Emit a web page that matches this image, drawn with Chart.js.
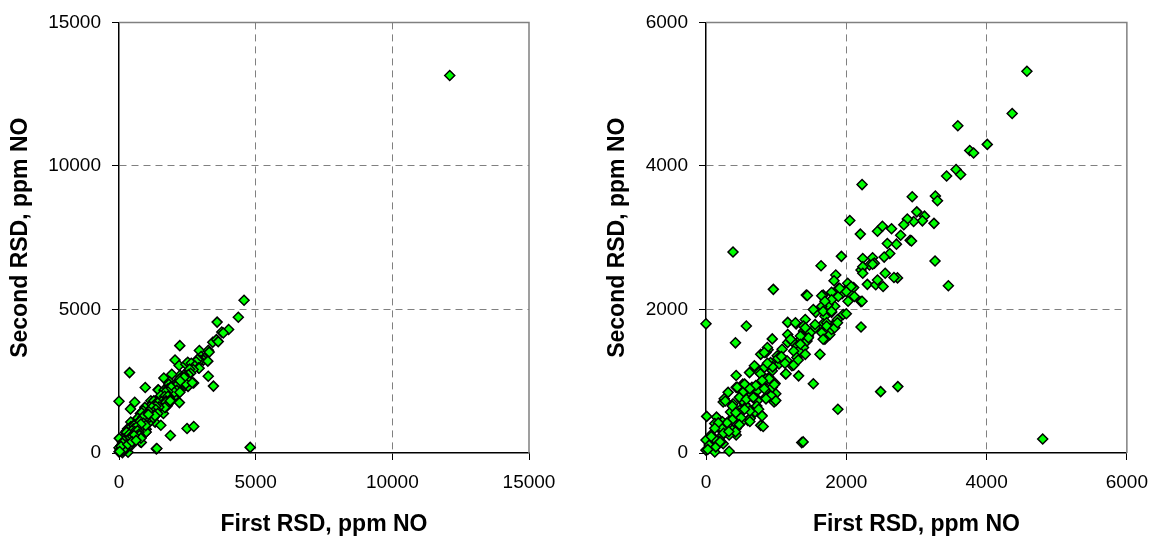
<!DOCTYPE html>
<html>
<head>
<meta charset="utf-8">
<title>First vs second RSD reading</title>
<script src="https://cdn.jsdelivr.net/npm/chart.js@4/dist/chart.umd.min.js"></script>
<style>
  html, body { margin: 0; padding: 0; background: #fff; }
  #wrap { position: relative; width: 1159px; height: 541px; }
  canvas { position: absolute; top: 0; }
</style>
</head>
<body>
<div id="wrap">
  <canvas id="fullRange" width="580" height="541" style="left:0"></canvas>
  <canvas id="closeUp" width="579" height="541" style="left:580px"></canvas>
</div>
<script>
// paired readings, ppm NO (first RSD pass, second RSD pass)
const firstRsd = [
  4575, 4365, 3590, 4010, 3760, 3815, 3430, 3565, 3630, 2225,
  2940, 3270, 3300, 3005, 3115, 3085, 2960, 2870, 2820, 3250,
  2050, 2200, 2445, 2515, 2645, 2775, 2910, 2930, 2715, 2585,
  2620, 2540, 2235, 2375, 2400, 2330, 3265, 1930, 1640, 385,
  1850, 1825, 2210, 2300, 2420, 2525, 2555, 2445, 2730, 3455,
  2020, 2105, 2210, 2070, 1975, 1890, 1940, 960, 1430, 1670,
  1955, 2000, 1835, 1740, 1790, 1695, 1860, 1790, 1765, 1650,
  1565, 1415, 1670, 1625, 1555, 1390, 1460, 1345, 1390, 1275,
  1320, 1165, 1285, 1165, 1165, 2210, 0, 575, 420, 945,
  885, 855, 780, 710, 620, 430, 430, 525, 1085, 1040,
  1155, 1225, 1320, 1625, 1530, 945, 900, 805, 735, 995,
  970, 855, 710, 640, 780, 570, 550, 480, 385, 315,
  245, 385, 290, 220, 150, 125, 10, 0, 0, 125,
  330, 245, 55, 430, 595, 430, 1365, 1385, 1880, 2490,
  2735, 4800, 12100, 2235, 2375, 2680, 2235, 1445, 1650, 1790,
  1885, 2000, 2070, 1905, 2115, 2025, 2225, 1790, 1695, 1530,
  1670, 1790, 1875, 1275, 1390, 1555, 1720, 1650, 1790, 1485,
  1365, 1225, 1695, 1440, 445, 555, 655, 775, 865, 985,
  930, 725, 610, 515, 260, 350, 470, 585, 700, 795,
  630, 515, 375, 280, 235, 165, 70, 45, 140, 210,
  115, 235, 330, 420, 875, 830, 1415, 1720, 1835, 1875,
  1670, 1460, 1345, 1205, 1345, 1250, 1085, 1015, 1295, 1415,
  1135, 920, 830, 690, 760, 855, 945, 830, 710, 550,
  525, 640, 855, 995, 735, 1140, 1125, 1250, 1315, 1025,
  950, 875, 1075, 775, 900, 975, 800, 625, 475, 575,
  675, 725, 625, 750, 815, 800, 275, 375, 425, 500,
  550, 375, 300, 225, 175, 250, 200, 125, 75, 25,
  325, 475, 625
];
const secondRsd = [
  5320, 4730, 4560, 4300, 4215, 4180, 3860, 3950, 3880, 3740,
  3570, 3580, 3515, 3360, 3300, 3235, 3225, 3260, 3180, 3200,
  3240, 3050, 3090, 3160, 3125, 3035, 2965, 2955, 2910, 2920,
  2780, 2730, 2710, 2720, 2645, 2620, 2675, 2740, 2610, 2800,
  2480, 2400, 2550, 2350, 2345, 2320, 2505, 2410, 2440, 2330,
  2365, 2305, 2110, 2205, 2260, 2295, 2220, 2280, 2200, 2200,
  1930, 1940, 2045, 2065, 1960, 1905, 1825, 1765, 1650, 2045,
  1960, 1860, 1800, 1720, 1745, 1700, 1630, 1580, 1470, 1515,
  1420, 1820, 1800, 1650, 1540, 1755, 1800, 1770, 1535, 1590,
  1440, 1400, 1375, 1195, 1120, 1080, 915, 960, 1305, 1240,
  1285, 1215, 1075, 1375, 965, 1145, 1055, 985, 870, 825,
  710, 780, 730, 595, 385, 825, 685, 595, 685, 845,
  710, 500, 410, 320, 500, 410, 510, 180, 40, 15,
  25, 130, 105, 340, 455, 250, 145, 155, 610, 855,
  925, 195, 13150, 2595, 2630, 2445, 2505, 2195, 2190, 2240,
  2180, 2250, 2320, 2295, 2180, 2115, 2115, 2135, 2115, 2000,
  1975, 1975, 1860, 1815, 1770, 1790, 1815, 1675, 1720, 1675,
  1630, 1560, 1585, 1560, 915, 955, 915, 985, 895, 970,
  800, 755, 800, 730, 755, 570, 550, 640, 570, 525,
  480, 435, 320, 320, 435, 365, 250, 110, 85, 155,
  205, 250, 250, 295, 1470, 1400, 1745, 1770, 1745, 1815,
  1585, 1605, 1630, 1585, 1515, 1420, 1445, 1355, 1330, 1375,
  1100, 1260, 1190, 1215, 1125, 1030, 915, 895, 940, 960,
  845, 800, 755, 730, 730, 1105, 1250, 1225, 1295, 1320,
  1200, 1250, 1345, 1105, 1035, 955, 1010, 895, 775, 750,
  775, 655, 585, 610, 370, 515, 725, 655, 560, 490,
  610, 465, 420, 345, 420, 275, 155, 345, 230, 50,
  300, 395, 440
];

const xTitle = 'First RSD, ppm NO';
const yTitle = 'Second RSD, ppm NO';

const FONT = '"Liberation Sans", Arial, Helvetica, sans-serif';

// grey frame on the top and right of the plot area
const frame = {
  id: 'frame',
  beforeDatasetsDraw(chart) {
    const { ctx, chartArea: a } = chart;
    ctx.save();
    ctx.strokeStyle = '#808080';
    ctx.lineWidth = 1.5;
    ctx.beginPath();
    ctx.moveTo(a.left, a.top);
    ctx.lineTo(a.right, a.top);
    ctx.lineTo(a.right, a.bottom);
    ctx.stroke();
    ctx.restore();
  }
};

function axis(max, step, title, titlePad, fit) {
  return {
    type: 'linear',
    min: 0,
    max: max,
    ticks: {
      stepSize: step,
      color: '#000',
      font: { family: FONT, size: 19 },
      padding: 11,
      maxRotation: 0,
      callback: v => String(v)
    },
    grid: {
      color: c => (c.tick && c.tick.value > 0 && c.tick.value < max) ? '#808080' : 'rgba(0,0,0,0)',
      lineWidth: 1,
      tickColor: '#000',
      tickLength: 7
    },
    border: { color: '#000', width: 1.5, dash: [7, 5] },
    title: {
      display: true,
      text: title,
      color: '#000',
      font: { family: FONT, size: 23, weight: 'bold' },
      padding: titlePad
    },
    afterFit: fit
  };
}

function makeChart(id, max, step, yWidth, yTitlePad, rightPad) {
  const points = firstRsd.map((x, i) => ({ x: x, y: secondRsd[i] }));
  return new Chart(document.getElementById(id), {
    type: 'scatter',
    data: {
      datasets: [{
        data: points,
        pointStyle: 'rectRot',
        pointRadius: 5,
        pointHoverRadius: 5,
        backgroundColor: '#00ff00',
        borderColor: '#000',
        borderWidth: 1.5,
        clip: 10
      }]
    },
    options: {
      responsive: false,
      animation: false,
      devicePixelRatio: 1,
      layout: { padding: { top: 18, right: rightPad, bottom: 0, left: 0 } },
      plugins: { legend: { display: false }, tooltip: { enabled: false } },
      scales: {
        x: axis(max, step, xTitle, { top: 0, bottom: 3 }, s => { s.height = 88; }),
        y: axis(max, step, yTitle, { top: yTitlePad, bottom: 0 }, s => { s.width = yWidth; })
      }
    },
    plugins: [frame]
  });
}

makeChart('fullRange', 15000, 5000, 119, 7, 51);
makeChart('closeUp', 6000, 2000, 126, 24, 26);
</script>
</body>
</html>
